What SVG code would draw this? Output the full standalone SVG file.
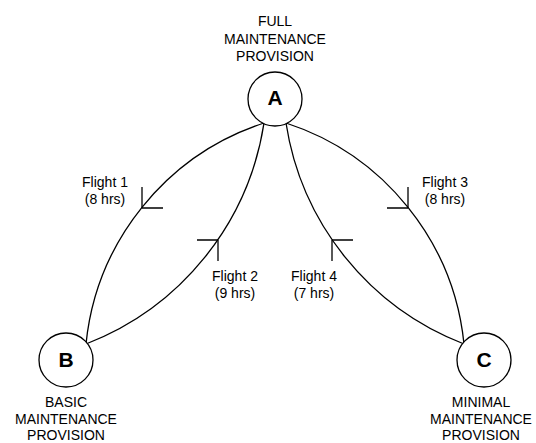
<svg xmlns="http://www.w3.org/2000/svg" width="536" height="443" viewBox="0 0 536 443">
  <style>
    .node { fill: #ffffff; stroke: #000000; stroke-width: 1.3; }
    .letter { font-family: "Liberation Sans", Arial, sans-serif; font-size: 21px; font-weight: bold; fill: #000000; text-anchor: middle; }
    .label { font-family: "Liberation Sans", Arial, sans-serif; font-size: 14px; fill: #000000; text-anchor: middle; }
    .edge { fill: none; stroke: #000000; stroke-width: 1.3; }
    .tick { fill: none; stroke: #000000; stroke-width: 1.3; }
  </style>
  <rect width="536" height="443" fill="#ffffff"/>

  <g id="connectors">
    <g id="flight1">
      <path class="edge" d="M264,123 A260,260 0 0 0 86,344"/>
      <path class="tick" d="M142,208 V187 M142,208 H163"/>
      <text class="label" x="105" y="187">Flight 1</text>
      <text class="label" x="105" y="204">(8 hrs)</text>
    </g>
    <g id="flight2">
      <path class="edge" d="M264,123 A283,283 0 0 1 86,344"/>
      <path class="tick" d="M218,240 H197 M218,240 V261"/>
      <text class="label" x="235" y="281">Flight 2</text>
      <text class="label" x="235" y="298">(9 hrs)</text>
    </g>
    <g id="flight3">
      <path class="edge" d="M286,123 A260,260 0 0 1 464,344"/>
      <path class="tick" d="M408,208 V187 M408,208 H387"/>
      <text class="label" x="445" y="187">Flight 3</text>
      <text class="label" x="445" y="204">(8 hrs)</text>
    </g>
    <g id="flight4">
      <path class="edge" d="M286,123 A283,283 0 0 0 464,344"/>
      <path class="tick" d="M332,240 H353 M332,240 V261"/>
      <text class="label" x="314" y="281">Flight 4</text>
      <text class="label" x="314" y="298">(7 hrs)</text>
    </g>
  </g>

  <g id="nodeA">
    <circle class="node" cx="275" cy="99" r="27"/>
    <text class="letter" x="275" y="105">A</text>
    <text class="label" x="275" y="26">FULL</text>
    <text class="label" x="275" y="43.5">MAINTENANCE</text>
    <text class="label" x="275" y="61">PROVISION</text>
  </g>

  <g id="nodeB">
    <circle class="node" cx="66" cy="360" r="27"/>
    <text class="letter" x="66" y="367">B</text>
    <text class="label" x="66" y="407">BASIC</text>
    <text class="label" x="66" y="423.5">MAINTENANCE</text>
    <text class="label" x="66" y="440">PROVISION</text>
  </g>

  <g id="nodeC">
    <circle class="node" cx="484" cy="360" r="27"/>
    <text class="letter" x="484" y="367">C</text>
    <text class="label" x="481" y="407">MINIMAL</text>
    <text class="label" x="481" y="423.5">MAINTENANCE</text>
    <text class="label" x="481" y="440">PROVISION</text>
  </g>
</svg>
